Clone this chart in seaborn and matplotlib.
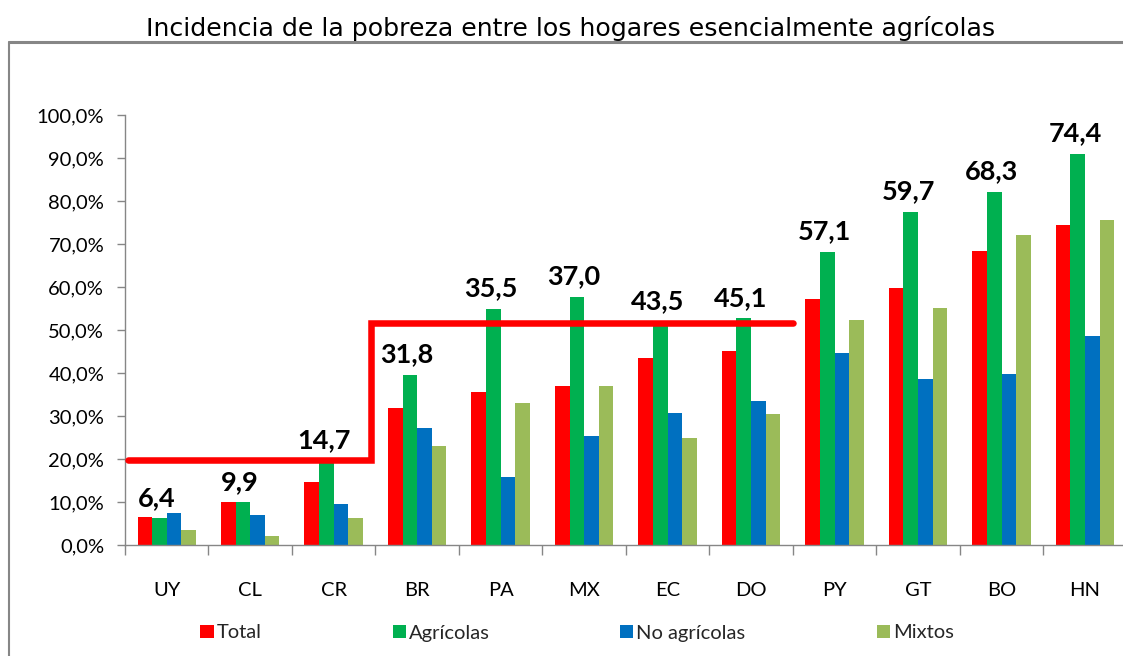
import numpy as np
import pandas as pd
import matplotlib
matplotlib.use("Agg")
import matplotlib.pyplot as plt
from matplotlib.ticker import FuncFormatter, FixedLocator
from matplotlib.lines import Line2D
import seaborn as sns

# ---------------- data ----------------
paises = ["UY", "CL", "CR", "BR", "PA", "MX", "EC", "DO", "PY", "GT", "BO", "HN"]
series = ["Total", "Agrícolas", "No agrícolas", "Mixtos"]
total = [6.4, 9.9, 14.7, 31.8, 35.5, 37.0, 43.5, 45.1, 57.1, 59.7, 68.3, 74.4]
agricolas = [6.2, 9.9, 19.6, 39.6, 55.0, 57.7, 52.0, 52.7, 68.1, 77.4, 82.2, 90.9]
no_agricolas = [7.5, 6.9, 9.5, 27.2, 15.9, 25.3, 30.7, 33.6, 44.7, 38.7, 39.7, 48.7]
mixtos = [3.5, 2.1, 6.2, 23.0, 33.0, 37.0, 25.0, 30.4, 52.4, 55.1, 72.1, 75.6]
etiquetas = ["6,4", "9,9", "14,7", "31,8", "35,5", "37,0", "43,5", "45,1",
             "57,1", "59,7", "68,3", "74,4"]
# thresholds of the step line (per group of countries)
grupo_bajo = ["UY", "CL", "CR"]
grupo_medio = ["BR", "PA", "MX", "EC", "DO"]
umbral_bajo = 19.8
umbral_medio = 51.7

colores = ["#FF0000", "#00B050", "#0070C0", "#9BBB59"]

df = pd.DataFrame({
    "pais": paises * 4,
    "serie": np.repeat(series, len(paises)),
    "valor": total + agricolas + no_agricolas + mixtos,
})

# ---------------- figure ----------------
sns.set_theme(style="white")
plt.rcParams["font.family"] = ["Lato", "DejaVu Sans"]

W, H = 1123, 656
fig = plt.figure(figsize=(W / 100, H / 100), dpi=100)
fig.patch.set_facecolor("white")

ax_left, ax_right = 125, 125 + 12 * 83.48
ax_top, ax_bottom = 115, 545
ax = fig.add_axes([ax_left / W, 1 - ax_bottom / H,
                   (ax_right - ax_left) / W, (ax_bottom - ax_top) / H])
ax.set_facecolor("white")

sns.barplot(data=df, x="pais", y="valor", hue="serie", order=paises,
            hue_order=series, palette=colores, saturation=1, width=0.70,
            gap=0, linewidth=0, ax=ax, legend=True)

ax.set_xlim(-0.5, len(paises) - 0.5)
ax.set_ylim(0, 100)
ax.set_xlabel("")
ax.set_ylabel("")

spine_col = "#868686"
for s in ["top", "right"]:
    ax.spines[s].set_visible(False)
for s in ["left", "bottom"]:
    ax.spines[s].set_color(spine_col)
    ax.spines[s].set_linewidth(1.0)

# y axis
ax.set_yticks(np.arange(0, 101, 10))
ax.yaxis.set_major_formatter(FuncFormatter(lambda v, p: f"{v:.1f}%".replace(".", ",")))
ax.tick_params(axis="y", which="major", direction="out", length=5.5, width=1,
               color=spine_col, pad=9.5, labelsize=14.5, labelcolor="black",
               left=True)

# x axis: labels at centers, ticks at boundaries
ax.set_xticks(range(len(paises)))
ax.set_xticklabels(paises)
ax.tick_params(axis="x", which="major", length=0, pad=27, labelsize=14.5,
               labelcolor="black")
ax.xaxis.set_minor_locator(FixedLocator(np.arange(-0.5, len(paises), 1)))
ax.tick_params(axis="x", which="minor", direction="out", length=7, width=1,
               color=spine_col, bottom=True)

# data labels (Total values) above the tallest bar of each group
for i, (lab, g) in enumerate(zip(etiquetas, agricolas)):
    ax.text(i - 0.12, g + 2.0, lab, ha="center", va="bottom",
            fontsize=19.5, fontweight="bold", color="black", zorder=4)

# step line
i_bajo_ini = paises.index(grupo_bajo[0]) - 0.47
i_bajo_fin = paises.index(grupo_bajo[-1]) + 0.45
i_medio_fin = paises.index(grupo_medio[-1]) + 0.5
ax.plot([i_bajo_ini, i_bajo_fin, i_bajo_fin, i_medio_fin],
        [umbral_bajo, umbral_bajo, umbral_medio, umbral_medio],
        color="#FF0000", lw=4.7, solid_joinstyle="miter", zorder=5,
        clip_on=False)

# legend
handles, labels = ax.get_legend_handles_labels()
ax.legend(handles, labels, loc="center", bbox_to_anchor=(577 / W, 1 - 633 / H),
          bbox_transform=fig.transFigure, ncol=4, frameon=False,
          handlelength=0.65, handleheight=0.65, handletextpad=0.15,
          columnspacing=6.5, fontsize=14.5, borderaxespad=0)

# title
fig.text(571 / W, 1 - 36.3 / H,
         "Incidencia de la pobreza entre los hogares esencialmente agrícolas",
         ha="center", va="baseline", fontsize=18.2, color="black",
         family=["DejaVu Sans"])

# outer frame (top and left edges)
frame_col = "#868686"
fig.add_artist(Line2D([9 / W, 1.0], [1 - 42 / H, 1 - 42 / H],
                      transform=fig.transFigure, color=frame_col, lw=2.2))
fig.add_artist(Line2D([9 / W, 9 / W], [1 - 42 / H, 0.0],
                      transform=fig.transFigure, color=frame_col, lw=1.5))

fig.savefig("out.png", dpi=100, facecolor="white")
